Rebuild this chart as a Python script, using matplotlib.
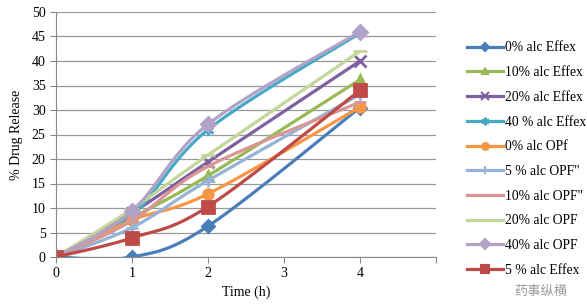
import matplotlib.pyplot as plt
import numpy as np

plt.rcParams['font.family'] = ['Liberation Serif', 'DejaVu Serif']

# data
time_h = [0, 1, 2, 4]
labels = ['0% alc Effex', '10% alc Effex', '20% alc Effex', '40 % alc Effex',
          '0% alc OPf', '5 % alc OPF"', '10% alc OPF"', '20% alc OPF',
          '40% alc OPF', '5 % alc Effex']
eff0 = [0, 0, 6.3, 30.5]
eff10 = [0, 8.0, 16.6, 36.2]
eff20 = [0, 9.0, 19.4, 40.0]
eff40 = [0, 8.5, 26.0, 45.7]
opf0 = [0, 7.5, 12.9, 30.6]
opf5 = [0, 6.0, 15.6, 33.2]
opf10 = [0, 7.4, 18.5, 31.6]
opf20 = [0, 9.8, 20.8, 42.0]
opf40 = [0, 9.4, 27.1, 46.0]
eff5 = [0, 3.9, 10.3, 34.0]
series = [eff0, eff10, eff20, eff40, opf0, opf5, opf10, opf20, opf40, eff5]

colors = ['#4A7EBB', '#98B954', '#7D60A0', '#46AAC5', '#F79646',
          '#95B3D7', '#D99694', '#C3D69B', '#B3A2C7', '#BE4B48']
markers = ['D', '^', 'x', (6, 2, 0), 'o', '+', '_', '_', 'D', 's']
msizes = [6, 7, 8, 8, 7, 8, 8, 10, 7, 8]


def smooth(x, y, n=30):
    # Excel-like smoothed line: bezier with control points from neighbours
    x = np.asarray(x, float)
    y = np.asarray(y, float)
    px = np.concatenate([[x[0]], x, [x[-1]]])
    py = np.concatenate([[y[0]], y, [y[-1]]])
    xs, ys = [], []
    t = np.linspace(0, 1, n)
    for i in range(len(x) - 1):
        p0 = np.array([px[i + 1], py[i + 1]])
        p3 = np.array([px[i + 2], py[i + 2]])
        p1 = p0 + (p3 - np.array([px[i], py[i]])) / 6
        p2 = p3 - (np.array([px[i + 3], py[i + 3]]) - p0) / 6
        b = ((1 - t) ** 3)[:, None] * p0 + (3 * (1 - t) ** 2 * t)[:, None] * p1 \
            + (3 * (1 - t) * t ** 2)[:, None] * p2 + (t ** 3)[:, None] * p3
        xs.extend(b[:, 0])
        ys.extend(b[:, 1])
    return np.array(xs), np.array(ys)


fig = plt.figure(figsize=(5.87, 3.08), dpi=100)
ax = fig.add_axes([56 / 587, 1 - 257 / 308, 380 / 587, 245 / 308])

handles = []
for vals, lab, c, m, ms in zip(series, labels, colors, markers, msizes):
    sx, sy = smooth(time_h, vals)
    ax.plot(sx, sy, color=c, lw=2.3, solid_capstyle='round')
    ax.plot(time_h, vals, ls='none', marker=m, ms=ms, color=c, mec=c, mew=2)
    h, = ax.plot([], [], color=c, lw=2.3, marker=m, ms=ms * 0.7, mec=c, mew=1.5)
    handles.append(h)

ax.set_xlim(0, 5)
ax.set_ylim(0, 50)
ax.set_xticks([0, 1, 2, 3, 4, 5])
ax.set_xticklabels(['0', '1', '2', '3', '4', ''])
ax.set_yticks(range(0, 51, 5))
ax.yaxis.grid(True, color='#999999', lw=0.9)
ax.set_axisbelow(True)
for s in ['top', 'right']:
    ax.spines[s].set_visible(False)
for s in ['left', 'bottom']:
    ax.spines[s].set_color('#888888')
ax.tick_params(colors='#888888', labelcolor='black', labelsize=10, length=4)
ax.set_xlabel('Time (h)', fontsize=10)
ax.set_ylabel('% Drug Release', fontsize=10, labelpad=6)

fig.legend(handles, labels, loc='upper left', bbox_to_anchor=(462 / 587, 1 - 36 / 308),
           frameon=False, fontsize=9.8, handlelength=2.6, labelspacing=0.86,
           handletextpad=0.15, borderaxespad=0)

fig.text(541 / 587, 1 - 291 / 308, '药事纵横', family=['Noto Sans CJK SC', 'DejaVu Sans'],
         fontsize=9.5, color='#9a9a9a', ha='center', va='center')

fig.savefig('out.png', dpi=100)
